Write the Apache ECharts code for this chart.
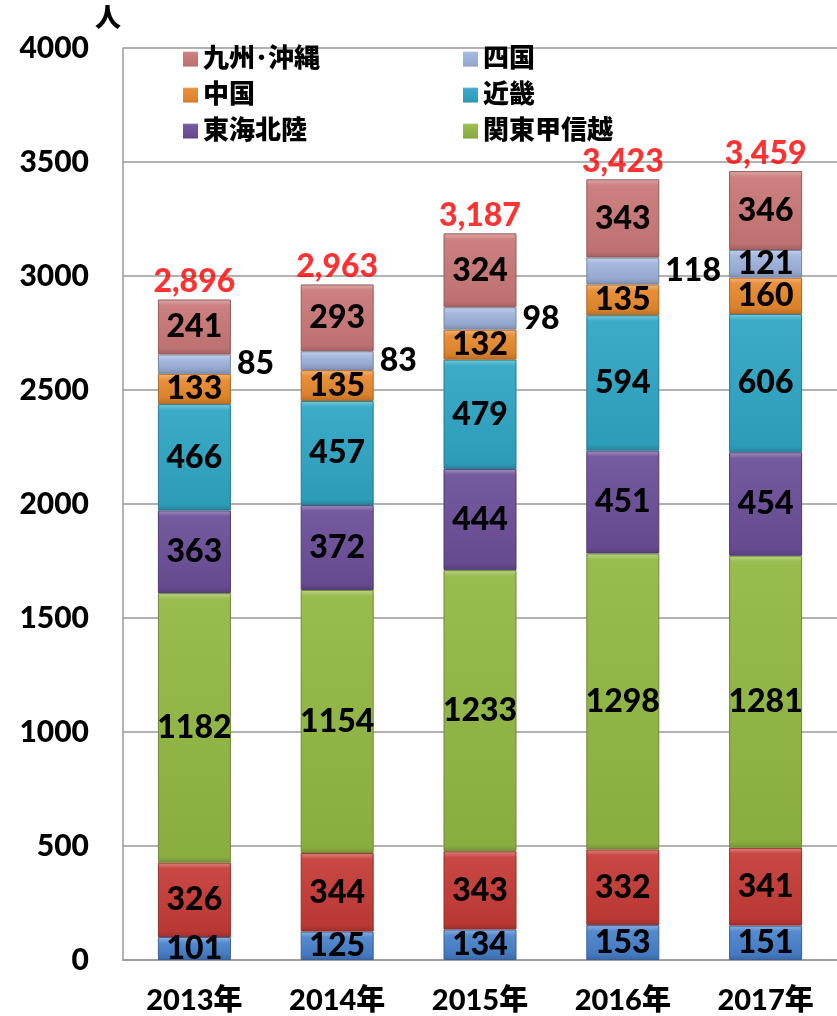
<!DOCTYPE html>
<html><head><meta charset="utf-8">
<script src="https://cdn.jsdelivr.net/npm/echarts@6/dist/echarts.min.js"></script>
<style>html,body{margin:0;padding:0;background:#fff}#c{width:837px;height:1016px}</style>
</head><body><div id="c"></div>
<script>
const categories = ['2013年','2014年','2015年','2016年','2017年'];
const hokkaido = [101,125,134,153,151];
const tohoku = [326,344,343,332,341];
const kanto = [1182,1154,1233,1298,1281];
const tokai = [363,372,444,451,454];
const kinki = [466,457,479,594,606];
const chugoku = [133,135,132,135,160];
const shikoku = [85,83,98,118,121];
const kyushu = [241,293,324,343,346];
const totals = [2896,2963,3187,3423,3459];
const yTicks = [0,500,1000,1500,2000,2500,3000,3500,4000];

const FONT = "Lato, 'Noto Sans CJK JP', sans-serif";
const W = 900;
const PLOT_H = 1016 - 48 - 56;
function shade(hex, amt){
  const n=parseInt(hex.slice(1),16);let r=n>>16,g=(n>>8)&255,b=n&255;
  const f=v=>Math.max(0,Math.min(255,Math.round(amt>0?v+(255-v)*amt:v*(1+amt))));
  return 'rgb('+f(r)+','+f(g)+','+f(b)+')';
}
function grad(c, v){
  const h = Math.max(8, v * PLOT_H / yTicks[yTicks.length-1]);
  const t = Math.min(0.3, 6/h), b = Math.min(0.3, 6/h);
  return {type:'linear',x:0,y:0,x2:0,y2:1,colorStops:[
    {offset:0,color:shade(c,0.38)},{offset:t,color:shade(c,0.06)},
    {offset:1-b,color:shade(c,-0.06)},{offset:1,color:shade(c,-0.2)}]};
}
const seriesDefs = [
  ['北海道', hokkaido, '#4a82cc'],
  ['東北', tohoku, '#c63c37'],
  ['関東甲信越', kanto, '#93b844'],
  ['東海北陸', tokai, '#6b4f98'],
  ['近畿', kinki, '#2fa6c4'],
  ['中国', chugoku, '#e8892e'],
  ['四国', shikoku, '#9fb3dc'],
  ['九州･沖縄', kyushu, '#c97878']
];
const series = seriesDefs.map(([name, vals, col]) => ({
  name, type:'bar', stack:'t', barWidth:73,
  itemStyle:{color:grad(col, 300), borderColor:shade(col,-0.25), borderWidth:1},
  label:{show:true, position:'inside', color:'#000', fontSize:32, fontWeight:W, fontFamily:FONT},
  data: vals.map((v,i) => {
    const d = {value:v, itemStyle:{color:grad(col, v)}};
    if (name==='四国' && i<4) d.label = {position:'right', distance:6};
    return d;
  })
}));
series.push({
  name:'合計', type:'scatter', symbolSize:0, data:totals, z:10,
  label:{show:true, position:'top', distance:2, color:'#ff0000', fontSize:32, fontWeight:W, fontFamily:FONT,
    formatter:p=>p.value.toLocaleString('en-US')}
});
const legendCommon = {orient:'vertical', icon:'rect', itemWidth:15, itemHeight:15, itemGap:6, itemStyle:{borderWidth:0},
  textStyle:{fontSize:26, fontWeight:W, fontFamily:FONT, color:'#000', lineHeight:30}, selectedMode:false};
const chart = echarts.init(document.getElementById('c'));
chart.setOption({
  animation:false,
  grid:{left:123, right:0, top:48, bottom:56, outerBoundsMode:'none', containLabel:false},
  legend:[
    Object.assign({left:178, top:39, data:['九州･沖縄','中国','東海北陸']}, legendCommon),
    Object.assign({left:458, top:39, data:['四国','近畿','関東甲信越']}, legendCommon)
  ],
  graphic:[{type:'text', left:95, top:6, style:{text:'人', fontSize:26, fontWeight:W, fontFamily:FONT, fill:'#000'}}],
  xAxis:{type:'category', data:categories,
    axisLine:{lineStyle:{color:'#999', width:1.5}},
    axisTick:{inside:true, length:9, lineStyle:{color:'#999', width:1.5}},
    axisLabel:{fontSize:29, fontWeight:W, fontFamily:FONT, color:'#000', margin:26}},
  yAxis:{type:'value', min:yTicks[0], max:yTicks[yTicks.length-1], interval:500,
    axisLine:{show:true, lineStyle:{color:'#999', width:1.5}},
    axisTick:{show:false},
    splitLine:{lineStyle:{color:'#999', width:1.5}},
    axisLabel:{fontSize:30, fontWeight:W, fontFamily:FONT, color:'#000', margin:34, formatter:v=>String(v)}},
  series
});
</script></body></html>
